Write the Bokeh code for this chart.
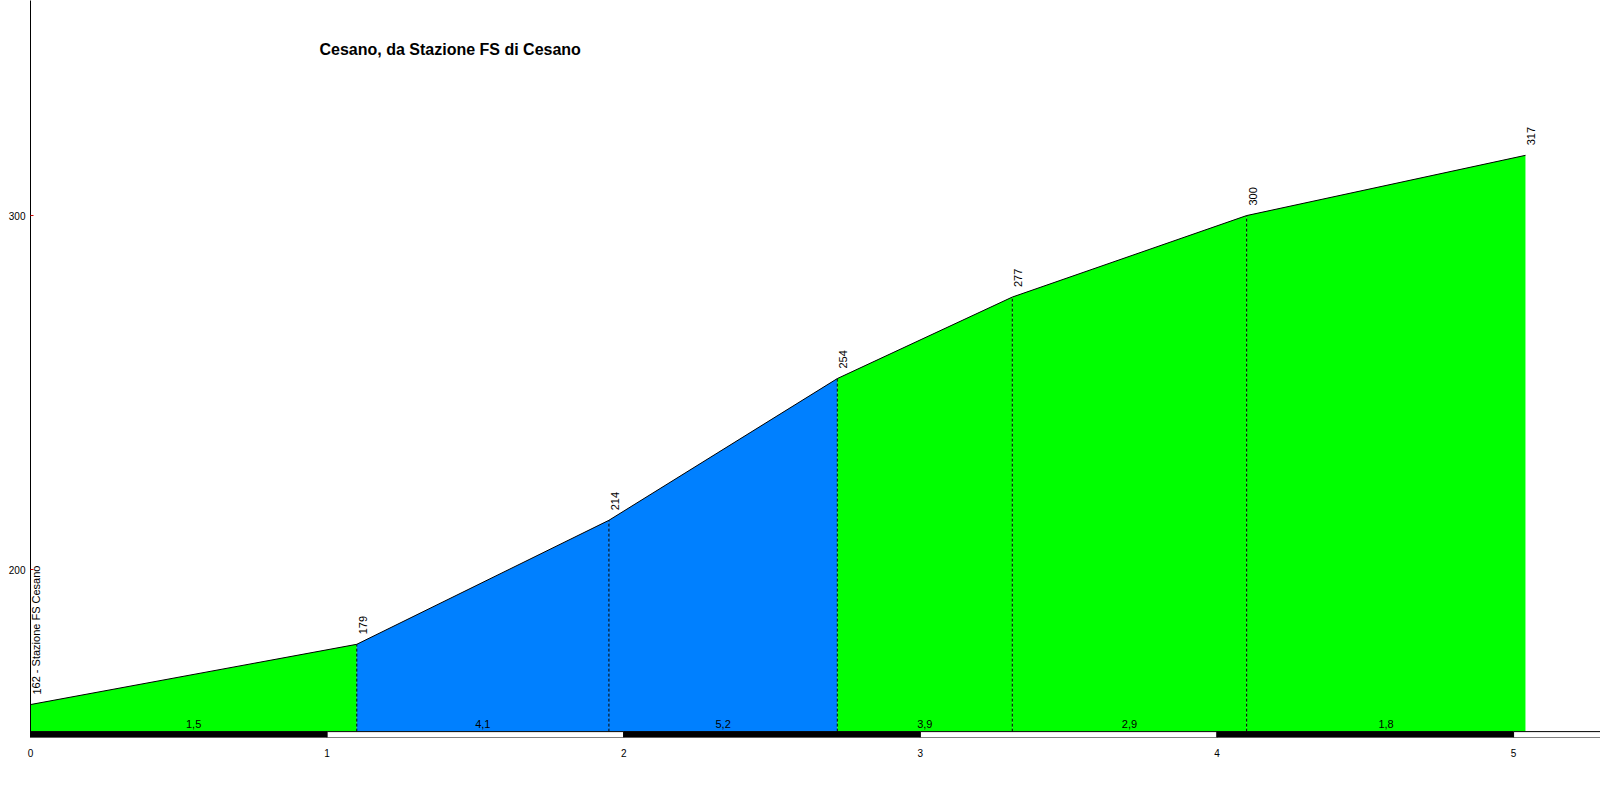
from bokeh.plotting import figure
from bokeh.models import Range1d, FixedTicker, Label
from bokeh.core.properties import value
from bokeh.embed import file_html
from bokeh.resources import INLINE

# ---- data ----
title_text = "Cesano, da Stazione FS di Cesano"
dist_km = [0.0, 1.10, 1.95, 2.72, 3.31, 4.10, 5.04]
elev_m = [162, 179, 214, 254, 277, 300, 317]
start_label = "162 - Stazione FS Cesano"
grade_labels = ["1,5", "4,1", "5,2", "3,9", "2,9", "1,8"]
seg_colors = ["#00FF00", "#0080FF", "#0080FF", "#00FF00", "#00FF00", "#00FF00"]
band_breaks = [0, 1, 2, 3, 4, 5, 6]
band_colors = ["black", "white", "black", "white", "black", "white"]
x_ticks = [0, 1, 2, 3, 4, 5]
y_ticks = [200, 300]

FONT = "Liberation Sans"
band_bottom, band_top = 152.7, 154.36
x_end = 5.293

p = figure(width=1600, height=792, output_backend="svg", toolbar_location=None,
           x_range=Range1d(0, x_end), y_range=Range1d(band_bottom, 360.7),
           min_border_left=30, min_border_right=0, min_border_top=0, min_border_bottom=55)
p.outline_line_color = None
p.xgrid.visible = False
p.ygrid.visible = False
p.background_fill_color = "white"

# profile segments
xs, ys = [], []
for i in range(len(dist_km) - 1):
    xs.append([dist_km[i], dist_km[i], dist_km[i + 1], dist_km[i + 1]])
    ys.append([band_top, elev_m[i], elev_m[i + 1], band_top])
p.patches(xs, ys, fill_color=seg_colors, line_color=None)
p.line(dist_km, elev_m, line_color="black", line_width=1)

# dashed verticals at interior points
p.segment(x0=dist_km[1:-1], y0=[band_top] * (len(dist_km) - 2),
          x1=dist_km[1:-1], y1=elev_m[1:-1],
          line_color="black", line_width=1, line_dash="3 2")

# distance band
bl = band_breaks[:-1]
br = band_breaks[1:]
br[-1] = x_end + 0.1
p.quad(left=bl, right=br, bottom=band_bottom, top=band_top,
       fill_color=band_colors, line_color="black", line_width=1)

# grade labels
mids = [(dist_km[i] + dist_km[i + 1]) / 2 for i in range(len(dist_km) - 1)]
p.text(x=mids, y=[band_top] * len(mids), text=grade_labels,
       text_font=value(FONT), text_font_size="11px", text_align="center",
       text_baseline="bottom", y_offset=-4, text_color="black")

# elevation labels
elev_text = [start_label] + [str(e) for e in elev_m[1:]]
p.text(x=dist_km, y=elev_m, text=elev_text, angle=1.5708,
       text_font=value(FONT), text_font_size="11px", text_align="left",
       text_baseline="middle", x_offset=6, y_offset=-10, text_color="black")

# title
p.add_layout(Label(x=289, y=688, x_units="screen", y_units="screen", text=title_text,
                   text_font=FONT, text_font_size="16px", text_font_style="bold",
                   text_baseline="middle", text_color="black"))

# axes
p.xaxis.ticker = FixedTicker(ticks=x_ticks)
p.xaxis.axis_line_color = None
p.xaxis.major_tick_line_color = None
p.xaxis.minor_tick_line_color = None
p.xaxis.major_label_text_font = FONT
p.xaxis.major_label_text_font_size = "10px"
p.xaxis.major_label_text_color = "black"
p.xaxis.major_label_standoff = 5

p.yaxis.ticker = FixedTicker(ticks=y_ticks)
p.yaxis.axis_line_color = "black"
p.yaxis.axis_line_width = 1
p.yaxis.major_tick_line_color = "#D00000"
p.yaxis.major_tick_in = 3
p.yaxis.major_tick_out = 0
p.yaxis.minor_tick_line_color = None
p.yaxis.major_label_text_font = FONT
p.yaxis.major_label_text_font_size = "10px"
p.yaxis.major_label_text_color = "black"
p.yaxis.major_label_standoff = 5

open("out.html", "w").write(file_html(p, INLINE))
